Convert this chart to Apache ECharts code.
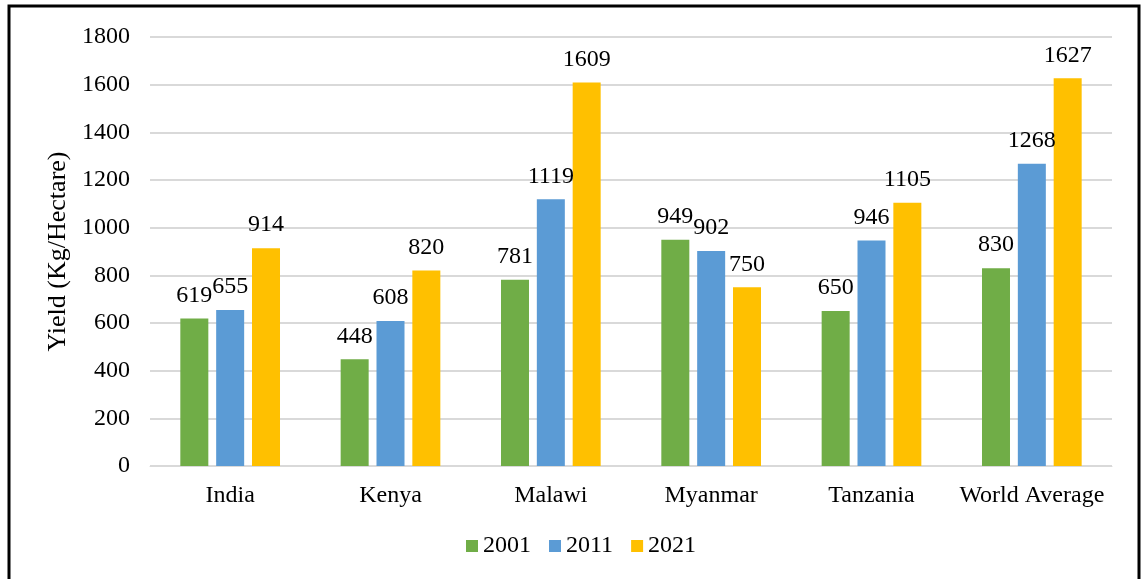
<!DOCTYPE html>
<html lang="en">
<head>
    <meta charset="UTF-8">
    <title>Yield</title>
    <script src="https://cdn.jsdelivr.net/npm/echarts@6/dist/echarts.min.js"></script>
    <style>
        html, body { margin: 0; padding: 0; background: #fff; }
        #chart { width: 1141px; height: 579px; }
    </style>
</head>
<body>
<div id="chart"></div>
<script>
    // data
    const countries = ['India', 'Kenya', 'Malawi', 'Myanmar', 'Tanzania', 'World Average'];
    const years = ['2001', '2011', '2021'];
    const y2001 = [619, 448, 781, 949, 650, 830];
    const y2011 = [655, 608, 1119, 902, 946, 1268];
    const y2021 = [914, 820, 1609, 750, 1105, 1627];
    const colors = ['#70AD47', '#5B9BD5', '#FFC000'];

    const font = 'Liberation Serif, Times New Roman, serif';
    let chart = echarts.init(document.getElementById('chart'));

    function bar(name, data, color) {
        return {
            name: name,
            type: 'bar',
            data: data,
            barWidth: 28,
            barGap: '28%',
            itemStyle: {color: color},
            label: {
                show: true,
                position: 'top',
                distance: 11,
                color: '#000',
                fontFamily: font,
                fontSize: 24
            }
        };
    }

    let option = {
        animation: false,
        backgroundColor: '#fff',
        graphic: [{
            type: 'rect',
            shape: {x: 9, y: 6, width: 1130, height: 600},
            style: {fill: 'none', stroke: '#000', lineWidth: 3}
        }],
        grid: {left: 150, right: 29, top: 37, bottom: 113},
        legend: {
            data: years,
            top: 529,
            left: 461,
            itemWidth: 12,
            itemHeight: 12,
            itemGap: 18,
            icon: 'rect',
            textStyle: {fontFamily: font, fontSize: 24, color: '#000'}
        },
        xAxis: {
            type: 'category',
            data: countries,
            axisTick: {show: false},
            axisLine: {lineStyle: {color: '#d9d9d9', width: 1}},
            axisLabel: {fontFamily: font, fontSize: 24, color: '#000', margin: 18, interval: 0}
        },
        yAxis: {
            type: 'value',
            min: 0,
            max: 1800,
            interval: 200,
            name: 'Yield (Kg/Hectare)',
            nameLocation: 'middle',
            nameGap: 73,
            nameTextStyle: {fontFamily: font, fontSize: 26, color: '#000'},
            axisLabel: {
                fontFamily: font, fontSize: 24, color: '#000', margin: 20,
                formatter: function (v) { return String(v); }
            },
            splitLine: {lineStyle: {color: '#d9d9d9', width: 2}}
        },
        series: [
            bar(years[0], y2001, colors[0]),
            bar(years[1], y2011, colors[1]),
            bar(years[2], y2021, colors[2])
        ]
    };
    chart.setOption(option);
</script>
</body>
</html>
